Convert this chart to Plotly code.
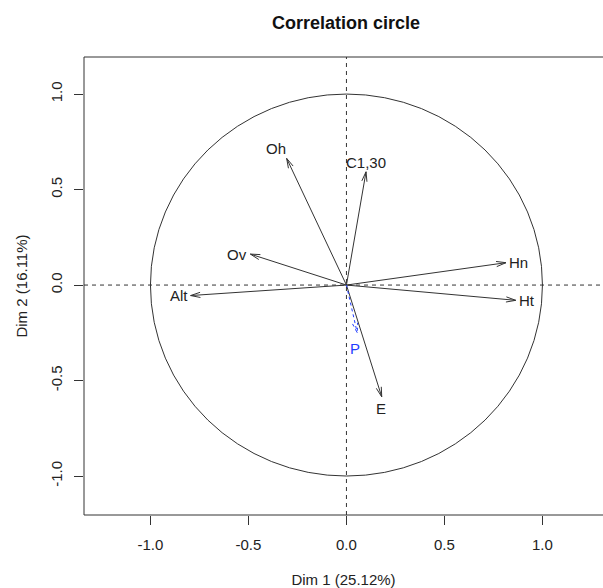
import numpy as np
import plotly.graph_objects as go

# ---- data ----
variables = ["Hn", "Ht", "Alt", "Ov", "Oh", "C1,30", "E", "P"]
dim1 = [0.814, 0.864, -0.795, -0.49, -0.305, 0.10, 0.18, 0.055]
dim2 = [0.117, -0.08, -0.055, 0.162, 0.663, 0.593, -0.585, -0.25]
supplementary = [False, False, False, False, False, False, False, True]
label_side = ["right", "right", "left", "left", "topleft", "top", "bottom", "bottom"]
ticks = [-1.0, -0.5, 0.0, 0.5, 1.0]
tick_labels = ["-1.0", "-0.5", "0.0", "0.5", "1.0"]
title = "Correlation circle"
xlab = "Dim 1 (25.12%)"
ylab = "Dim 2 (16.11%)"

W, H = 603, 588
ml, mt, mr, mb = 84, 57, 0, 73
xr = [-1.339, 1.309]
yr = [-1.204, 1.194]
sx = (W - ml - mr) / (xr[1] - xr[0])
sy = (H - mt - mb) / (yr[1] - yr[0])

FONT = "Liberation Sans, Arial, sans-serif"
DARK = "#333333"
BLUE = "#1f3cff"
fig = go.Figure()

head_len = 10.0
head_ang = np.deg2rad(15)
for name, x, y, sup in zip(variables, dim1, dim2, supplementary):
    dx, dy = x * sx, y * sy
    n = np.hypot(dx, dy)
    ux, uy = dx / n, dy / n
    pts = []
    for s in (1, -1):
        c, si = np.cos(s * head_ang), np.sin(s * head_ang)
        rx, ry = ux * c - uy * si, ux * si + uy * c
        pts.append((x - head_len * rx / sx, y - head_len * ry / sy))
    xs = [0, x, None, pts[0][0], x, pts[1][0]]
    ys = [0, y, None, pts[0][1], y, pts[1][1]]
    col = BLUE if sup else DARK
    fig.add_trace(go.Scatter(x=xs, y=ys, mode="lines",
                             line=dict(color=col, width=1,
                                       dash="3px,3px" if sup else "solid"),
                             hoverinfo="skip", showlegend=False))

# label placement styles (anchor + pixel offsets)
side_style = {
    "right": dict(xanchor="left", yanchor="middle", xshift=2, yshift=0),
    "left": dict(xanchor="right", yanchor="middle", xshift=-2, yshift=0),
    "topleft": dict(xanchor="center", yanchor="bottom", xshift=-11, yshift=0),
    "top": dict(xanchor="center", yanchor="bottom", xshift=0, yshift=0),
    "bottom": dict(xanchor="center", yanchor="top", xshift=-1, yshift=-2),
}
annotations = []
for name, x, y, sup, side in zip(variables, dim1, dim2, supplementary, label_side):
    st = dict(side_style[side])
    if sup:
        st["yshift"] = -6
        st["xshift"] = -2
    annotations.append(dict(
        x=x, y=y, xref="x", yref="y", text=name, showarrow=False,
        font=dict(family=FONT, size=15, color=BLUE if sup else "#222222"),
        borderpad=0, **st))

shapes = [
    dict(type="circle", xref="x", yref="y", x0=-1, y0=-1, x1=1, y1=1,
         line=dict(color=DARK, width=1)),
    dict(type="line", xref="x", yref="paper", x0=0, x1=0, y0=0, y1=1,
         line=dict(color=DARK, width=1, dash="4px,4px")),
    dict(type="line", xref="paper", yref="y", x0=0, x1=1, y0=0, y1=0,
         line=dict(color=DARK, width=1, dash="4px,4px")),
    dict(type="rect", xref="paper", yref="paper", x0=0, x1=1.05, y0=0, y1=1,
         line=dict(color=DARK, width=1)),
]

fig.update_layout(
    width=W, height=H, margin=dict(l=ml, r=mr, t=mt, b=mb),
    paper_bgcolor="white", plot_bgcolor="white",
    font=dict(family=FONT, size=15, color="#222222"),
    title=dict(text="<b>" + title + "</b>", x=(346 / W), xanchor="center",
               y=1 - 23 / H, yanchor="middle",
               font=dict(family=FONT, size=18, color="#111111")),
    shapes=shapes, annotations=annotations,
    xaxis=dict(range=xr, showgrid=False, zeroline=False, showline=False,
               automargin=False,
               tickmode="array", tickvals=ticks, ticktext=tick_labels,
               ticks="outside", ticklen=9, tickcolor=DARK, tickwidth=1,
               ticklabelstandoff=7,
               tickfont=dict(size=15, color="#222222"),
               title=dict(text=xlab, standoff=27, font=dict(size=15))),
    yaxis=dict(range=yr, showgrid=False, zeroline=False, showline=False,
               automargin=False,
               tickmode="array", tickvals=ticks, ticktext=tick_labels,
               ticks="outside", ticklen=9, tickcolor=DARK, tickwidth=1,
               ticklabelstandoff=6,
               tickangle=-90, tickfont=dict(size=15, color="#222222"),
               title=dict(text=ylab, standoff=16, font=dict(size=15))),
)

fig.write_html("out.html")
